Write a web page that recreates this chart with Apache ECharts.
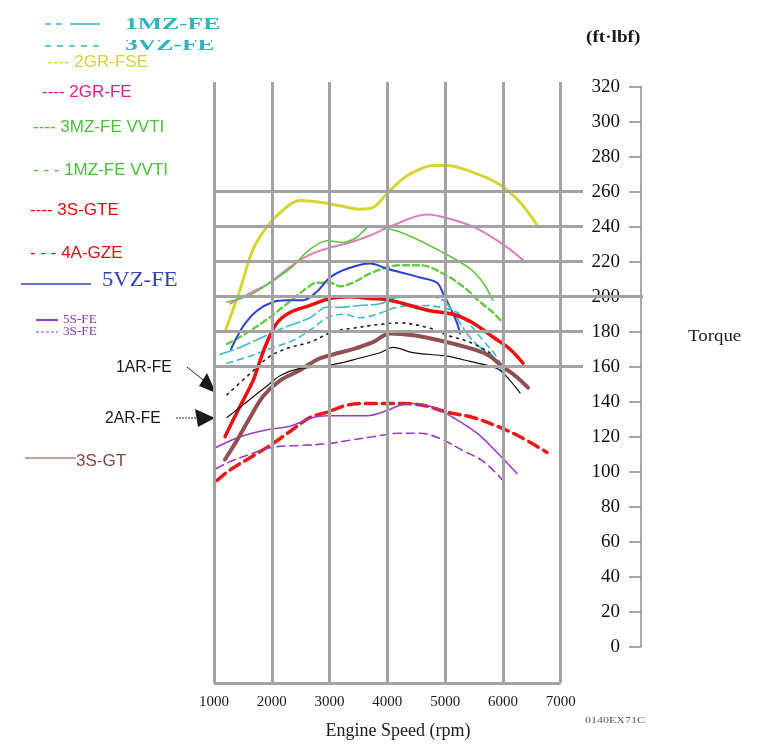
<!DOCTYPE html>
<html><head><meta charset="utf-8">
<script src="https://cdn.jsdelivr.net/npm/echarts@6/dist/echarts.min.js"></script>
<style>html,body{margin:0;padding:0;background:#fff}#c{width:776px;height:751px}</style>
</head><body><div id="c"></div>
<script>
// ---- axes / ticks ----
const xTicks = [1000, 2000, 3000, 4000, 5000, 6000, 7000];
const yTicks = [0, 20, 40, 60, 80, 100, 120, 140, 160, 180, 200, 220, 240, 260, 280, 300, 320];
const gridTorque = [160, 180, 200, 220, 240, 260];

// ---- series (rpm, torque ft·lbf) ----
const gr2fseRpm = [1190,1450,1675,1917,2142,2488,2834,3181,3527,3752,3994,4219,4444,4790,5032,5482,5950,6296,6590];
const gr2fseTq  = [180,204,227,240,248,255,254,252,250,251,259,266,271,275,275,271,264,254,241];

const gr2feRpm = [1277,1623,1969,2315,2661,3007,3354,3700,4046,4686,5032,5482,5950,6348];
const gr2feTq  = [196,202,208,217,224,228,231,235,240,247,245,240,231,221];

const mz3vvtiRpm = [1225,1623,1969,2315,2661,2956,3233,3475,3700,3994,4219,4565,5032,5430,5655,5828];
const mz3vvtiTq  = [197,201,208,216,227,232,231,234,240,239,237,232,224,216,208,198];

const mz1vvtiRpm = [1225,1502,1917,2263,2609,2782,3007,3181,3406,3752,4219,4565,5032,5378,5603,5828,6001];
const mz1vvtiTq  = [173,178,187,196,205,208,208,206,208,214,218,218,212,204,197,191,185];

const vz5Rpm = [1294,1502,1744,2021,2263,2540,2782,3007,3302,3700,3994,4219,4565,4859,4963,5084,5205,5257];
const vz5Tq  = [170,183,192,197,198,198,203,211,216,219,216,214,211,208,202,194,185,179];

const mz1Rpm = [1104,1450,1848,2263,2661,2956,3181,3527,3873,4098,4340,4738,4963,5084,5378,5603,5828,6001];
const mz1Tq  = [167,171,177,183,188,194,194,195,196,199,200,200,198,194,179,171,166,156];

const vz3Rpm = [1225,1623,2021,2367,2713,2956,3233,3527,3821,4167,4617,4911,5205,5430,5655,5863,6036];
const vz3Tq  = [162,166,171,175,182,188,190,188,190,194,195,194,191,184,175,167,157];

const s3gteRpm = [1190,1398,1675,1761,1917,2090,2315,2661,3007,3354,3700,4046,4738,5136,5482,5828,6123,6348];
const s3gteTq  = [120,134,152,160,174,185,191,195,199,200,199,198,192,190,185,177,170,162];

const a4gzeRpm = [1052,1277,1623,1969,2315,2661,2956,3302,3648,4046,4219,4617,5032,5482,5898,6296,6763];
const a4gzeTq  = [95,101,108,115,123,131,134,138,139,139,139,138,134,131,126,120,111];

const s5feRpm = [810,1104,1450,1917,2315,2713,2956,3302,3648,3994,4219,4444,4790,5136,5552,5898,6244];
const s5feTq  = [110,115,120,124,126,131,132,132,132,135,138,139,137,131,122,111,99];

const s3feRpm = [844,1225,1623,2021,2488,2956,3354,3752,4219,4565,4911,5309,5655,6001];
const s3feTq  = [98,105,110,114,115,116,118,120,122,122,119,112,106,95];

const s3gtRpm = [1190,1398,1623,1848,2142,2488,2782,3059,3406,3752,4046,4444,4911,5378,5725,6001,6244,6434];
const s3gtTq  = [107,118,131,143,152,158,164,167,170,174,179,178,175,171,167,160,154,148];

const ar1Rpm = [1225,1623,1969,2315,2661,3059,3406,3821,4219,4738,5032,5430,5776];
const ar1Tq  = [144,156,166,171,174,180,182,184,185,182,178,174,168];

const ar2Rpm = [1225,1571,1917,2150,2488,2834,3181,3527,3873,4098,4444,5032,5430,5898,6071,6296];
const ar2Tq  = [131,140,149,155,159,160,162,165,168,171,168,166,163,159,154,145];

// ---- layout constants ----
const X_MIN = 1000, X_MAX = 8424, X_MID = 7386;
const Y_MIN = -20.74, Y_MAX = 322.69;
const GRID_GRAY = '#a3a3a3';
const SERIF = '"Liberation Serif", "DejaVu Serif", serif';
const SANS = '"Liberation Sans", Arial, sans-serif';

const zip = (a, b) => a.map((v, i) => [v, b[i]]);

const defs = [
  { name: '2GR-FSE', rpm: gr2fseRpm, tq: gr2fseTq, color: '#d6d630', width: 3, type: 'solid' },
  { name: '2GR-FE', rpm: gr2feRpm, tq: gr2feTq, color: '#e878c0', width: 2, type: 'solid' },
  { name: '3MZ-FE VVTI', rpm: mz3vvtiRpm, tq: mz3vvtiTq, color: '#5cc83c', width: 1.6, type: 'solid' },
  { name: '1MZ-FE VVTI', rpm: mz1vvtiRpm, tq: mz1vvtiTq, color: '#66cc44', width: 2.5, type: [6, 4] },
  { name: '5VZ-FE', rpm: vz5Rpm, tq: vz5Tq, color: '#2a40d0', width: 2, type: 'solid' },
  { name: '1MZ-FE', rpm: mz1Rpm, tq: mz1Tq, color: '#38bcc8', width: 1.6, type: [14, 4] },
  { name: '3VZ-FE', rpm: vz3Rpm, tq: vz3Tq, color: '#38bcc8', width: 1.6, type: [6, 5] },
  { name: '3S-GTE', rpm: s3gteRpm, tq: s3gteTq, color: '#ee1010', width: 3.5, type: 'solid' },
  { name: '4A-GZE', rpm: a4gzeRpm, tq: a4gzeTq, color: '#ee1818', width: 3.5, type: [11, 6] },
  { name: '5S-FE', rpm: s5feRpm, tq: s5feTq, color: '#9a3cc8', width: 1.6, type: 'solid' },
  { name: '3S-FE', rpm: s3feRpm, tq: s3feTq, color: '#9a3cc8', width: 1.6, type: [8, 5] },
  { name: '3S-GT', rpm: s3gtRpm, tq: s3gtTq, color: '#8e5050', width: 4, type: 'solid' },
  { name: '1AR-FE', rpm: ar1Rpm, tq: ar1Tq, color: '#222222', width: 1.6, type: [2, 5] },
  { name: '2AR-FE', rpm: ar2Rpm, tq: ar2Tq, color: '#111111', width: 1.2, type: 'solid' }
];

const gridLines = [
  ...xTicks.map(v => ({ xAxis: v })),
  ...gridTorque.map(v => [{ coord: [X_MIN, v] }, { coord: [v === 200 ? X_MAX : X_MID, v] }]),
  [{ coord: [X_MIN, Y_MIN] }, { coord: [xTicks[xTicks.length - 1], Y_MIN] }]
];

const series = [
  {
    type: 'line', xAxisIndex: 0, yAxisIndex: 0, data: [], z: 1, silent: true,
    markLine: {
      silent: true, symbol: ['none', 'none'], label: { show: false }, animation: false,
      lineStyle: { color: GRID_GRAY, width: 3, type: 'solid' },
      emphasis: { disabled: true },
      data: gridLines
    }
  },
  ...defs.map(d => ({
    name: d.name, type: 'line', xAxisIndex: 0, yAxisIndex: 0, z: 3,
    data: zip(d.rpm, d.tq), showSymbol: false, smooth: 0.35, silent: true,
    lineStyle: { color: d.color, width: d.width, type: d.type, cap: 'round' }
  }))
];

function txt(x, y, text, fill, font, opts) {
  return Object.assign({
    type: 'text', x: x, y: y, silent: true,
    style: { text: text, fill: fill, font: font, textAlign: 'left', textVerticalAlign: 'middle' }
  }, opts || {});
}
function ln(x1, y1, x2, y2, stroke, w, dash) {
  return { type: 'line', silent: true, shape: { x1, y1, x2, y2 }, style: { stroke, lineWidth: w, lineDash: dash || null } };
}

const graphics = [
  // legend
  ln(45, 24, 67, 24, '#38bcc8', 1.6, [6, 5]), ln(70, 24, 100, 24, '#38bcc8', 1.6),
  txt(125, 25, '1MZ-FE', '#30b4bc', 'bold 16px ' + SERIF, { scaleX: 1.6 }),
  ln(45, 46, 100, 46, '#38bcc8', 1.6, [6, 6]),
  txt(125, 46, '3VZ-FE', '#30b4bc', 'bold 16px ' + SERIF, { scaleX: 1.6 }),
  { type: 'rect', silent: true, shape: { x: 120, y: 33, width: 110, height: 7 }, style: { fill: '#fff' } },
  txt(47, 62, '---- 2GR-FSE', '#d2d236', '17px ' + SANS),
  txt(42, 92, '---- 2GR-FE', '#e0208a', '17px ' + SANS),
  txt(33, 127, '---- 3MZ-FE VVTI', '#4cc03a', '17px ' + SANS),
  txt(33, 170, '- - - 1MZ-FE VVTI', '#4cc03a', '17px ' + SANS),
  txt(30, 210, '---- 3S-GTE', '#e01010', '17px ' + SANS),
  txt(30, 253, '- - - 4A-GZE', '#e01010', '17px ' + SANS),
  ln(21, 284, 91, 284, '#3040c0', 1.4),
  txt(102, 280, '5VZ-FE', '#3040c0', '21px ' + SERIF, { scaleX: 1.08 }),
  ln(36, 320, 58, 320, '#9a3cc8', 2),
  txt(63, 320, '5S-FE', '#8a36b8', '12px ' + SERIF, { scaleX: 1.1 }),
  ln(36, 332, 58, 332, '#9a3cc8', 1.2, [3, 2]),
  txt(63, 332, '3S-FE', '#8a36b8', '12px ' + SERIF, { scaleX: 1.1 }),
  txt(116, 367, '1AR-FE', '#1a1a1a', '17px ' + SANS, { scaleX: 0.92 }),
  ln(187, 367, 203, 380, '#222', 1),
  { type: 'polygon', silent: true, shape: { points: [[207, 373], [199, 386], [216, 393]] }, style: { fill: '#1a1a1a' } },
  txt(105, 418, '2AR-FE', '#1a1a1a', '17px ' + SANS, { scaleX: 0.92 }),
  ln(176, 418, 196, 418, '#333', 1, [2, 1]),
  { type: 'polygon', silent: true, shape: { points: [[195, 409], [198, 427], [215, 418]] }, style: { fill: '#1a1a1a' } },
  ln(25, 458, 76, 458, '#904040', 1.2),
  txt(76, 461, '3S-GT', '#8a4444', '17px ' + SANS),
  // axis texts
  txt(586, 38, '(ft·lbf)', '#1a1a1a', 'bold 16px ' + SERIF, { scaleX: 1.2 }),
  txt(688, 337, 'Torque', '#1a1a1a', '16px ' + SERIF, { scaleX: 1.18 }),
  { type: 'text', x: 398, y: 731, silent: true, style: { text: 'Engine Speed (rpm)', fill: '#1a1a1a', font: '18px ' + SERIF, textAlign: 'center', textVerticalAlign: 'middle' } },
  txt(585, 721, '0140EX71C', '#555', '8px ' + SERIF, { scaleX: 1.5 })
];

const option = {
  animation: false,
  backgroundColor: '#ffffff',
  grid: [
    { left: 214, top: 82, right: 133, bottom: 68, containLabel: false },
    { left: 641, top: 86.7, width: 20, height: 560, containLabel: false }
  ],
  xAxis: [
    {
      gridIndex: 0, type: 'value', min: X_MIN, max: X_MAX, interval: 1000,
      axisLine: { show: false }, axisTick: { show: false }, splitLine: { show: false },
      axisLabel: {
        margin: 12, color: '#1a1a1a', fontFamily: SERIF, fontSize: 15, showMaxLabel: false,
        formatter: v => (xTicks.indexOf(v) >= 0 ? String(v) : '')
      }
    },
    { gridIndex: 1, type: 'value', show: false, min: 0, max: 1 }
  ],
  yAxis: [
    { gridIndex: 0, type: 'value', min: Y_MIN, max: Y_MAX, show: false, splitLine: { show: false } },
    {
      gridIndex: 1, type: 'value', position: 'left', min: yTicks[0], max: yTicks[yTicks.length - 1], interval: 20,
      axisLine: { show: true, lineStyle: { color: '#8a8a8a', width: 1.5 } },
      axisTick: { show: true, length: 12, lineStyle: { color: '#8a8a8a', width: 1.5 } },
      splitLine: { show: false },
      axisLabel: { margin: 21, color: '#111', fontFamily: SERIF, fontSize: 19 }
    }
  ],
  series: series,
  graphic: graphics
};

const chart = echarts.init(document.getElementById('c'), null, { renderer: 'canvas' });
chart.setOption(option);
</script>
</body></html>
